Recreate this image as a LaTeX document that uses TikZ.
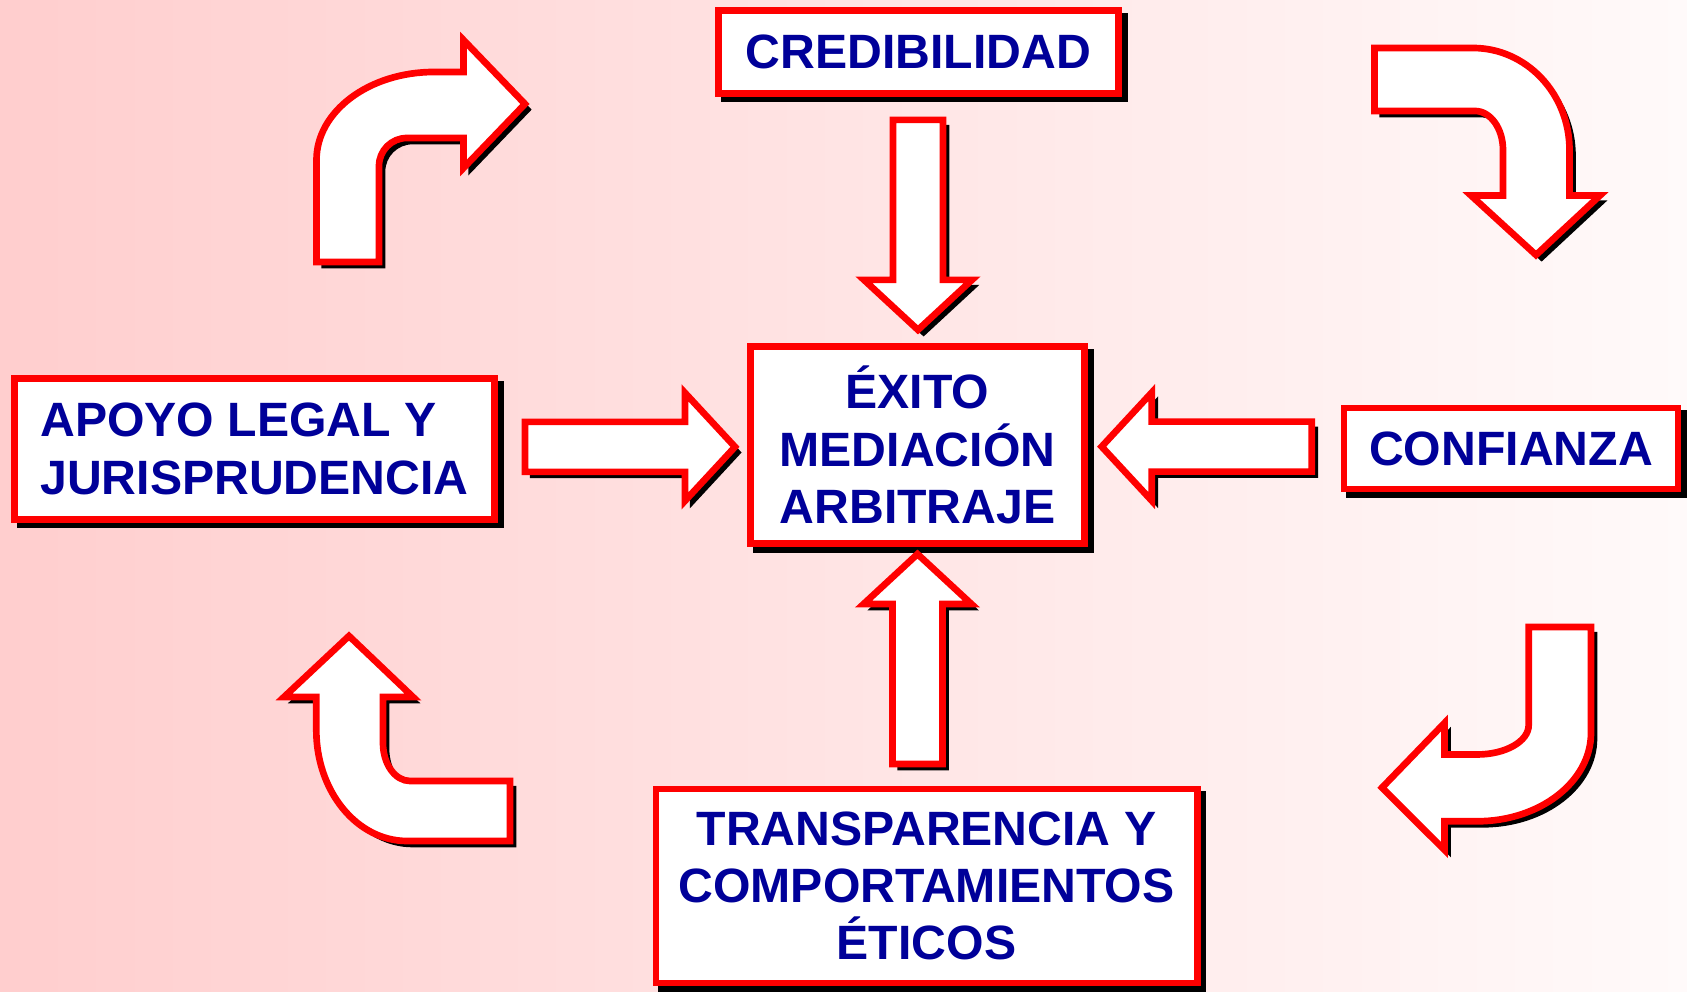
\documentclass[tikz,border=0pt]{standalone}
\usepackage{fontspec}
\setmainfont{Liberation Sans}
\usetikzlibrary{calc,positioning}
\definecolor{bgleft}{RGB}{255,206,206}
\definecolor{bgright}{RGB}{255,250,250}
\definecolor{navy}{RGB}{0,0,153}

\newcommand{\blockarrow}[2]{%
  \draw[arrowbox, shift={#1}, rotate=#2]
    (-105,-25) -- (55,-25) -- (55,-54) -- (105,0) -- (55,54) -- (55,25) -- (-105,25) -- cycle;}

\begin{document}
\begin{tikzpicture}[x=0.01cm, y=-0.01cm,
  shadowed/.style={preaction={draw=black, fill=black,
    transform canvas={shift={(1.6pt,-1.6pt)}}}},
  arrowbox/.style={draw=red, line width=1.9pt, fill=white, shadowed},
  box/.style={arrowbox, text=navy, inner sep=0pt, align=center,
    font=\fontsize{13.7}{16.3}\selectfont\bfseries}]
\useasboundingbox (0,0) rectangle (1687,992);
\shade[left color=bgleft, right color=bgright] (0,0) rectangle (1687,992);

\node[box, minimum width=4cm, minimum height=0.83cm] (cred) at (918.5,52) {CREDIBILIDAD};
\node[box, minimum width=3.34cm, minimum height=1.97cm] (exito) at (917.5,445)
  {ÉXITO\\MEDIACIÓN\\ARBITRAJE};
\node[box, align=left, minimum width=4.8cm, minimum height=1.41cm] (apoyo) at (254.5,449)
  {APOYO LEGAL Y\\JURISPRUDENCIA};
\node[box, minimum width=3.34cm, minimum height=0.81cm] (conf) at (1511,448.5) {CONFIANZA};
\node[box, minimum width=5.41cm, minimum height=1.94cm] (trans) at (926.5,886)
  {TRANSPARENCIA Y\\COMPORTAMIENTOS\\ÉTICOS};

\blockarrow{($(cred.south)!.52!(exito.north)$)}{-90}
\blockarrow{($(exito.south |- trans.north)!.53!(exito.south)$)}{90}
\blockarrow{($(apoyo.east)!.53!(exito.west)$)}{0}
\blockarrow{($(conf.west)!.53!(exito.east)$)}{180}

\draw[arrowbox] (316.5,262) -- (316.5,160) .. controls (316.5,111.4) and (369.1,72) .. (434,72)
  -- (463.5,72) -- (463.5,40) -- (525,104) -- (463.5,168) -- (463.5,138) -- (407,138)
  .. controls (391.5,138) and (379,150.5) .. (379,166) -- (379,262) -- cycle;
\draw[arrowbox] (1374.5,48) -- (1473,48) .. controls (1526.3,48) and (1569.5,93.7) .. (1569.5,150)
  -- (1569.5,195.5) -- (1600,195.5) -- (1536,255) -- (1471,195.5) -- (1503,195.5) -- (1503,150)
  .. controls (1503,128.5) and (1490.5,111) .. (1475,111) -- (1374.5,111) -- cycle;
\draw[arrowbox] (316.3,697) -- (284,697) -- (349,636) -- (413,697) -- (383,697) -- (383,743)
  .. controls (383,764) and (395.1,781) .. (410,781) -- (510,781) -- (510,841) -- (407,841)
  .. controls (356.9,841) and (316.3,791.3) .. (316.3,730) -- cycle;
\draw[arrowbox] (1528.7,627) -- (1591,627) -- (1591,733) .. controls (1591,781.6) and (1540,821.3) .. (1477,821.3)
  -- (1444.5,821.3) -- (1444.5,850) -- (1382,787.7) -- (1444.5,723) -- (1444.5,754.5) -- (1477,754.5)
  .. controls (1505.7,754.5) and (1528.7,741.3) .. (1528.7,725) -- cycle;
\end{tikzpicture}
\end{document}
